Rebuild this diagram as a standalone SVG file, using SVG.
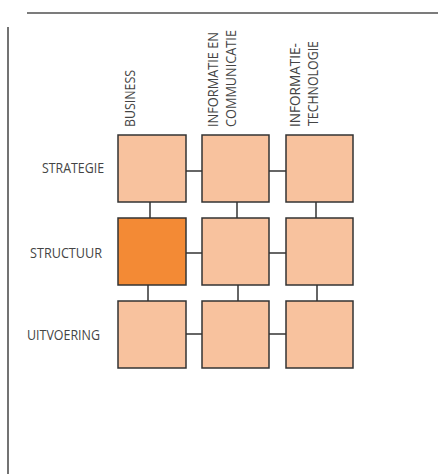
<svg xmlns="http://www.w3.org/2000/svg" width="438" height="474" viewBox="0 0 438 474">
<style>
.frame{stroke:#505050;stroke-width:1.6;fill:none}
.box{fill:#F8C29E;stroke:#333;stroke-width:1.5}
.hi{fill:#F38A35}
.conn line{stroke:#333;stroke-width:1.5}
.lbl{font-family:"Open Sans","Liberation Sans",sans-serif;font-size:15px;fill:#444}
</style>
<rect width="438" height="474" fill="#fff"/>
<g id="frame">
<line class="frame" x1="27" y1="13" x2="438" y2="13"/>
<line class="frame" x1="8" y1="27" x2="8" y2="474"/>
</g>
<g id="col-labels">
<text class="lbl" transform="translate(135,127) rotate(-90)" textLength="57" lengthAdjust="spacingAndGlyphs">BUSINESS</text>
<text class="lbl" transform="translate(218,127) rotate(-90)" textLength="95" lengthAdjust="spacingAndGlyphs">INFORMATIE EN</text>
<text class="lbl" transform="translate(236,127) rotate(-90)" textLength="97" lengthAdjust="spacingAndGlyphs">COMMUNICATIE</text>
<text class="lbl" transform="translate(300,127) rotate(-90)" textLength="84" lengthAdjust="spacingAndGlyphs">INFORMATIE-</text>
<text class="lbl" transform="translate(318,126) rotate(-90)" textLength="85" lengthAdjust="spacingAndGlyphs">TECHNOLOGIE</text>
</g>
<g id="row-labels">
<text class="lbl" x="104" y="172.5" text-anchor="end" textLength="62" lengthAdjust="spacingAndGlyphs">STRATEGIE</text>
<text class="lbl" x="102" y="258" text-anchor="end" textLength="72" lengthAdjust="spacingAndGlyphs">STRUCTUUR</text>
<text class="lbl" x="100" y="339.5" text-anchor="end" textLength="73" lengthAdjust="spacingAndGlyphs">UITVOERING</text>
</g>
<g id="connectors" class="conn">
<line x1="186" y1="171" x2="202" y2="171"/>
<line x1="269" y1="171" x2="286" y2="171"/>
<line x1="186" y1="253" x2="202" y2="253"/>
<line x1="269" y1="253" x2="286" y2="253"/>
<line x1="186" y1="334" x2="202" y2="334"/>
<line x1="269" y1="334" x2="286" y2="334"/>
<line x1="150" y1="202" x2="150" y2="218"/>
<line x1="237" y1="202" x2="237" y2="218"/>
<line x1="316" y1="202" x2="316" y2="218"/>
<line x1="148" y1="285" x2="148" y2="301"/>
<line x1="238" y1="285" x2="238" y2="301"/>
<line x1="317" y1="285" x2="317" y2="301"/>
</g>
<g id="n-strategie-business"><rect class="box" x="118" y="135" width="68" height="67"/></g>
<g id="n-strategie-ic"><rect class="box" x="202" y="135" width="67" height="67"/></g>
<g id="n-strategie-it"><rect class="box" x="286" y="135" width="67" height="67"/></g>
<g id="n-structuur-business"><rect class="box hi" x="118" y="218" width="68" height="67"/></g>
<g id="n-structuur-ic"><rect class="box" x="202" y="218" width="67" height="67"/></g>
<g id="n-structuur-it"><rect class="box" x="286" y="218" width="67" height="67"/></g>
<g id="n-uitvoering-business"><rect class="box" x="118" y="301" width="68" height="67"/></g>
<g id="n-uitvoering-ic"><rect class="box" x="202" y="301" width="67" height="67"/></g>
<g id="n-uitvoering-it"><rect class="box" x="286" y="301" width="67" height="67"/></g>
</svg>
